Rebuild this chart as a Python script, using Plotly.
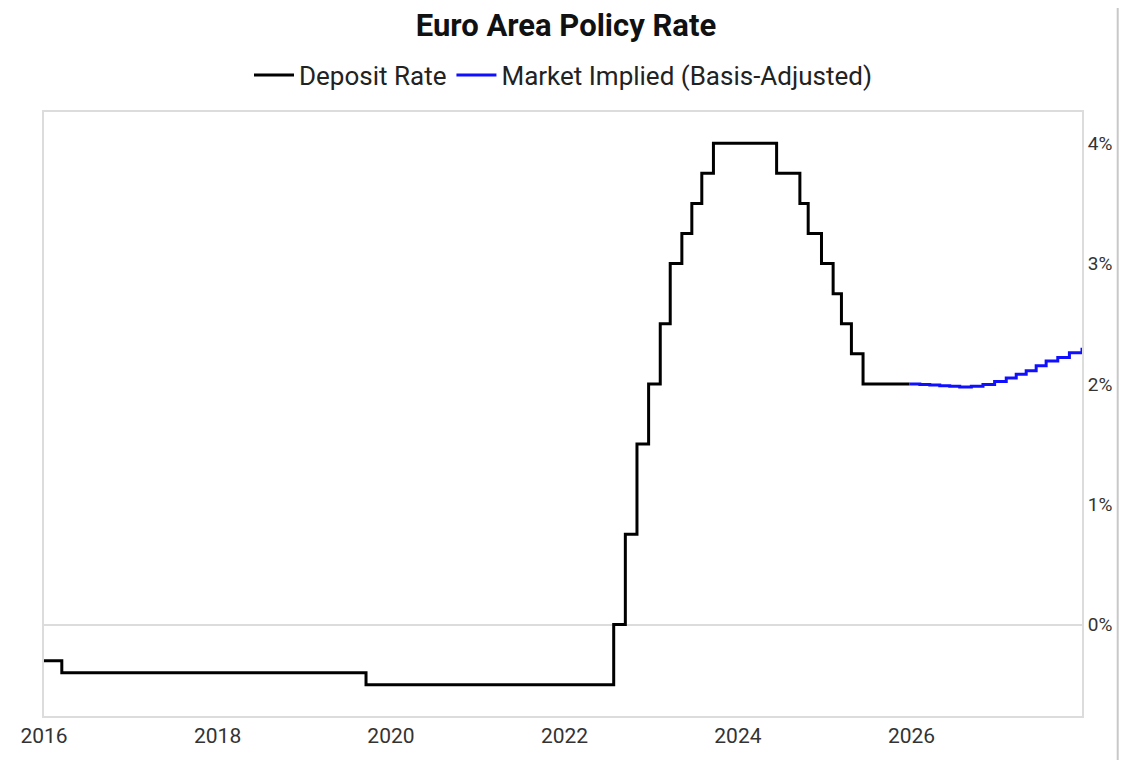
import plotly.graph_objects as go

# ECB deposit facility rate, decision effective dates
deposit_dates = ['2016-01-01', '2016-03-16', '2019-09-18', '2022-07-27', '2022-09-14',
                 '2022-11-02', '2022-12-21', '2023-02-08', '2023-03-22', '2023-05-10',
                 '2023-06-21', '2023-08-02', '2023-09-20', '2024-06-12', '2024-09-18',
                 '2024-10-23', '2024-12-18', '2025-02-05', '2025-03-12', '2025-04-23',
                 '2025-06-11', '2025-12-24']
deposit_rate = [-0.30, -0.40, -0.50, 0.00, 0.75,
                1.50, 2.00, 2.50, 3.00, 3.25,
                3.50, 3.75, 4.00, 3.75, 3.50,
                3.25, 3.00, 2.75, 2.50, 2.25,
                2.00, 2.00]

# market implied path by meeting (basis adjusted)
implied_dates = ['2025-12-24', '2026-02-05', '2026-03-19', '2026-04-30', '2026-06-11',
                 '2026-07-23', '2026-09-10', '2026-10-29', '2026-12-17', '2027-02-04',
                 '2027-03-18', '2027-04-29', '2027-06-10', '2027-07-22', '2027-09-09',
                 '2027-10-28', '2027-12-20']
implied_rate = [2.00, 1.995, 1.99, 1.985, 1.98,
                1.975, 1.98, 1.995, 2.02, 2.05,
                2.08, 2.11, 2.15, 2.19, 2.22,
                2.26, 2.30]

x_ticks = ['2016-01-01', '2018-01-01', '2020-01-01', '2022-01-01', '2024-01-01', '2026-01-01']
x_labels = ['2016', '2018', '2020', '2022', '2024', '2026']
y_ticks = [0, 1, 2, 3, 4]
y_labels = ['0%', '1%', '2%', '3%', '4%']

font_name = 'Roboto'

fig = go.Figure()

fig.add_trace(go.Scatter(x=deposit_dates, y=deposit_rate, name='Deposit Rate',
                         mode='lines', line=dict(color='black', width=3, shape='hv')))
fig.add_trace(go.Scatter(x=implied_dates, y=implied_rate, name='Market Implied (Basis-Adjusted)',
                         mode='lines', line=dict(color='#1010ff', width=3, shape='hv')))

# thin border line near the right edge of the picture
fig.add_shape(type='line', xref='paper', yref='paper', x0=1.0344, x1=1.0344, y0=-0.1, y1=1.2,
              line=dict(color='#c8c8c8', width=2), layer='above')

# page body adds an 8px margin, so the figure is smaller than the window (no scrollbars)
fig.update_layout(
    width=1116, height=752,
    plot_bgcolor='white', paper_bgcolor='white',
    margin=dict(l=32, r=37, t=104, b=40),
    font=dict(family=font_name, size=20, color='#333'),
    title=dict(text='<b>Euro Area Policy Rate</b>', x=0.5, xanchor='center',
               y=0.977, yanchor='middle', font=dict(size=31, color='#111')),
    legend=dict(orientation='h', x=0.5, xanchor='center', y=1.061, yanchor='middle',
                font=dict(size=26, color='#222'), itemwidth=40),
    showlegend=True,
)

fig.update_xaxes(range=['2016-01-01', '2027-12-20'], tickvals=x_ticks, ticktext=x_labels,
                 showgrid=False, zeroline=False, showline=True, mirror=True,
                 linecolor='#dcdcdc', linewidth=2, ticks='', tickfont=dict(size=21))
fig.update_yaxes(range=[-0.76, 4.26], side='right', tickvals=y_ticks, ticktext=y_labels,
                 showgrid=False, zeroline=True, zerolinecolor='#dcdcdc',
                 zerolinewidth=1.5, showline=True, mirror=True, linecolor='#dcdcdc',
                 linewidth=2, ticks='', tickfont=dict(size=19))

fig.write_html('out.html')
